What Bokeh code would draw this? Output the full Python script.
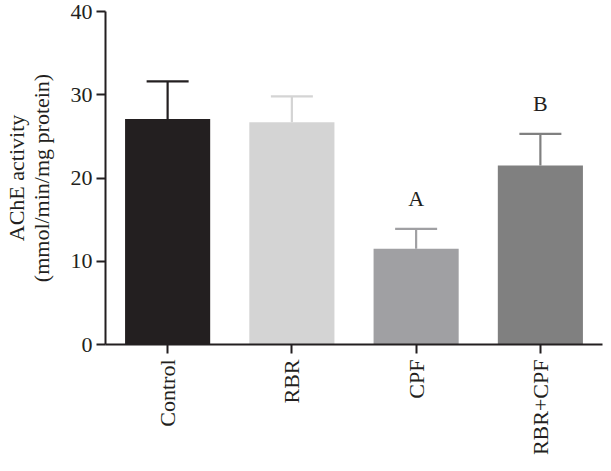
from bokeh.plotting import figure
from bokeh.models import ColumnDataSource, Whisker, TeeHead, Range1d, FixedTicker
from bokeh.embed import file_html
from bokeh.resources import INLINE
from bokeh.core.properties import value
import math

groups = ["Control", "RBR", "CPF", "RBR+CPF"]
means = [27.1, 26.7, 11.5, 21.5]
errors = [4.5, 3.1, 2.4, 3.8]
letters = ["", "", "A", "B"]
colors = ["#231f20", "#d4d4d4", "#a0a0a3", "#808080"]

FONT = "Liberation Serif"

p = figure(x_range=groups, y_range=Range1d(0, 40), width=603, height=463,
           output_backend="svg", toolbar_location=None,
           min_border_left=104, min_border_right=1, min_border_top=11, min_border_bottom=119)
p.outline_line_color = None
p.xgrid.grid_line_color = None
p.ygrid.grid_line_color = None

upper = [m + e for m, e in zip(means, errors)]
src = ColumnDataSource(dict(x=groups, top=means, upper=upper, color=colors,
                            letter=letters, ly=[u + 3.6 for u in upper]))

p.vbar(x="x", top="top", width=0.685, fill_color="color", line_color=None, source=src)

for g, m, u, c in zip(groups, means, upper, colors):
    s = ColumnDataSource(dict(base=[g], lower=[m], upper=[u]))
    w = Whisker(base="base", lower="lower", upper="upper", source=s,
                line_color=c, line_width=2.2,
                upper_head=TeeHead(size=42, line_color=c, line_width=2.2),
                lower_head=None, level="underlay")
    p.add_layout(w)

p.text(x="x", y="ly", text="letter", source=src, text_align="center",
       text_baseline="middle", text_font=value(FONT), text_font_size="22px",
       text_color="#231f20")

for ax in (p.xaxis, p.yaxis):
    ax.axis_line_width = 2
    ax.axis_line_color = "#231f20"
    ax.major_tick_line_width = 2
    ax.major_tick_line_color = "#231f20"
    ax.major_tick_in = 0
    ax.major_tick_out = 9
    ax.minor_tick_line_color = None
    ax.major_label_text_font = FONT
    ax.major_label_text_font_size = "22px"
    ax.major_label_text_color = "#231f20"

p.yaxis.ticker = FixedTicker(ticks=[0, 10, 20, 30, 40])
p.yaxis.major_label_standoff = 4
p.yaxis.axis_label = "AChE activity\n(mmol/min/mg protein)"
p.yaxis.axis_label_text_font = FONT
p.yaxis.axis_label_text_font_style = "normal"
p.yaxis.axis_label_text_font_size = "22px"
p.yaxis.axis_label_text_color = "#231f20"
p.yaxis.axis_label_text_line_height = 1.0
p.yaxis.axis_label_standoff = 14

p.xaxis.major_label_orientation = math.pi / 2
p.xaxis.major_label_standoff = 6

open("out.html", "w").write(file_html(p, INLINE))
